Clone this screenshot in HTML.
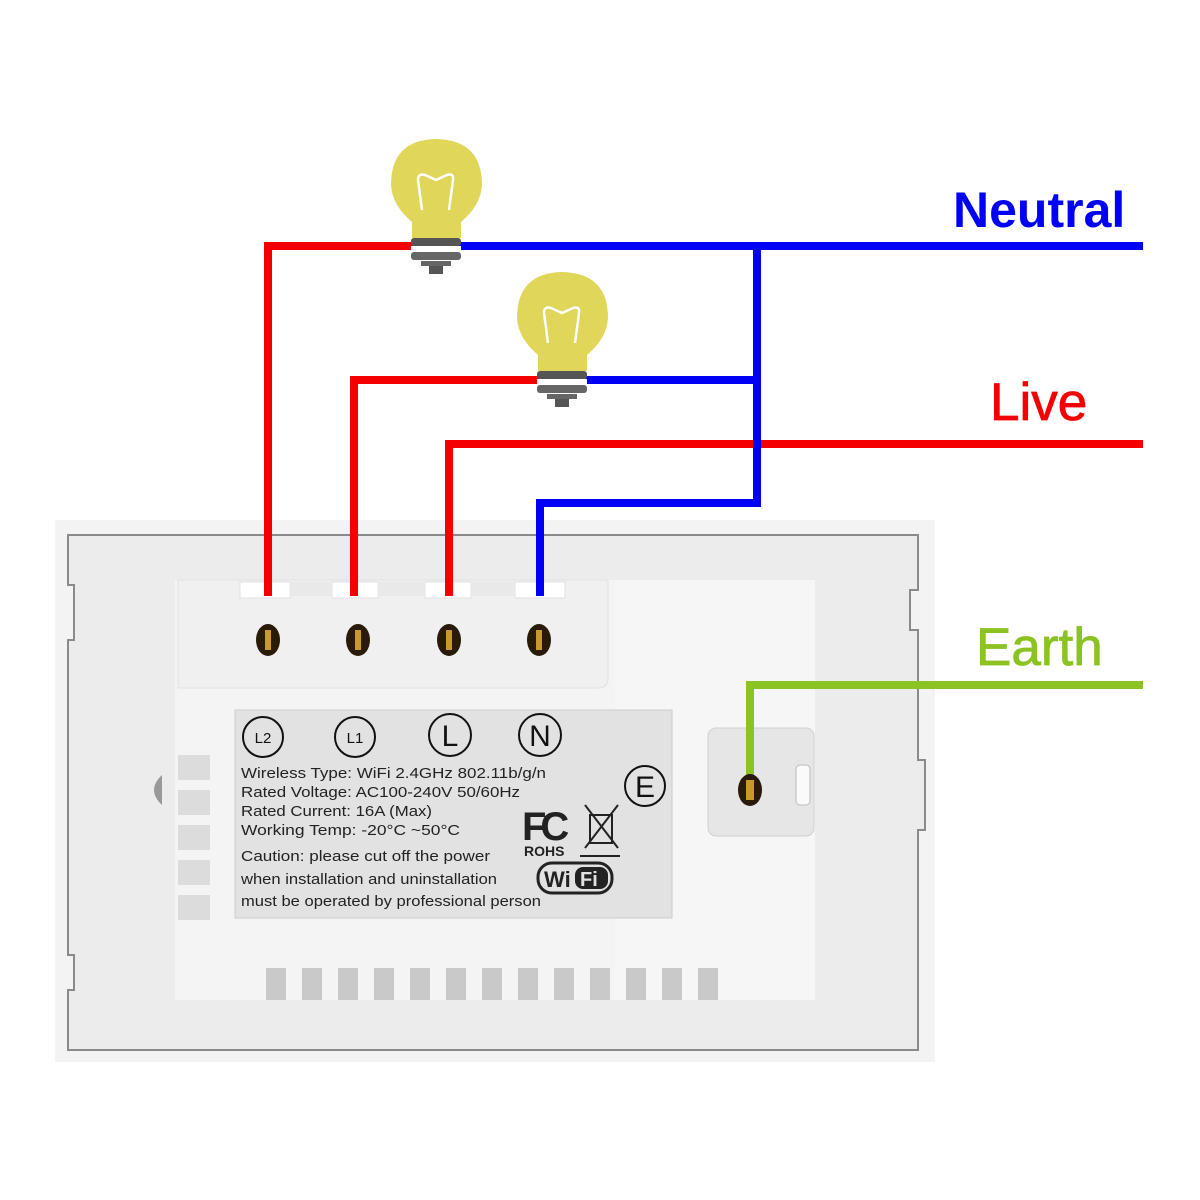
<!DOCTYPE html>
<html><head><meta charset="utf-8"><style>
html,body{margin:0;padding:0;background:#fff;}
svg{display:block;font-family:"Liberation Sans",Arial,sans-serif;}
</style></head><body>
<svg width="1200" height="1200" viewBox="0 0 1200 1200" xmlns="http://www.w3.org/2000/svg">
<rect width="1200" height="1200" fill="#fff"/>
<rect x="55" y="520" width="880" height="542" fill="#f3f3f3"/>
<path d="M68 535 H918 V590 H910 V630 H918 V760 H925 V830 H918 V1050 H68 V990 H74 V955 H68 V640 H74 V585 H68 Z" fill="#ececec" stroke="#8a8a8a" stroke-width="2"/>
<rect x="175" y="580" width="640" height="420" fill="#f4f4f4"/>
<rect x="615" y="580" width="200" height="420" fill="#f6f6f6"/>
<path d="M178 580 H608 V678 Q608 688 598 688 H178 Z" fill="#f0f0f0" stroke="#e2e2e2"/>
<g fill="#fff" stroke="#e0e0e0">
<rect x="240" y="582" width="50" height="16"/><rect x="332" y="582" width="46" height="16"/><rect x="425" y="582" width="46" height="16"/><rect x="515" y="582" width="50" height="16"/>
</g>
<rect x="290" y="582" width="42" height="14" fill="#e9e9e9"/>
<rect x="378" y="582" width="47" height="14" fill="#e9e9e9"/>
<rect x="471" y="582" width="44" height="14" fill="#e9e9e9"/>
<g fill="#dcdcdc">
<rect x="178" y="755" width="32" height="25"/><rect x="178" y="790" width="32" height="25"/><rect x="178" y="825" width="32" height="25"/><rect x="178" y="860" width="32" height="25"/><rect x="178" y="895" width="32" height="25"/>
</g>
<path d="M162 775 Q146 790 162 805 Z" fill="#999"/>
<g fill="#c9c9c9">
<rect x="266" y="968" width="20" height="32"/><rect x="302" y="968" width="20" height="32"/><rect x="338" y="968" width="20" height="32"/><rect x="374" y="968" width="20" height="32"/><rect x="410" y="968" width="20" height="32"/><rect x="446" y="968" width="20" height="32"/><rect x="482" y="968" width="20" height="32"/><rect x="518" y="968" width="20" height="32"/><rect x="554" y="968" width="20" height="32"/><rect x="590" y="968" width="20" height="32"/><rect x="626" y="968" width="20" height="32"/><rect x="662" y="968" width="20" height="32"/><rect x="698" y="968" width="20" height="32"/>
</g>
<rect x="708" y="728" width="106" height="108" rx="8" fill="#e6e6e6" stroke="#d0d0d0"/>
<rect x="796" y="765" width="14" height="40" rx="4" fill="#fafafa" stroke="#bbb"/>
<rect x="235" y="710" width="437" height="208" fill="#e2e2e2" stroke="#ccc"/>
<g fill="none" stroke="#111" stroke-width="2">
<circle cx="263" cy="737" r="20"/><circle cx="355" cy="737" r="20"/><circle cx="450" cy="735" r="21"/><circle cx="540" cy="735" r="21"/><circle cx="645" cy="786" r="20"/>
</g>
<g fill="#111" text-anchor="middle">
<text x="263" y="743" font-size="15">L2</text><text x="355" y="743" font-size="15">L1</text>
<text x="450" y="746" font-size="30">L</text><text x="540" y="746" font-size="30">N</text>
<text x="645" y="797" font-size="30">E</text>
</g>
<g fill="#222" font-size="14.5" lengthAdjust="spacingAndGlyphs">
<text x="241" y="778" textLength="305" lengthAdjust="spacingAndGlyphs">Wireless Type: WiFi 2.4GHz 802.11b/g/n</text>
<text x="241" y="797" textLength="279" lengthAdjust="spacingAndGlyphs">Rated Voltage: AC100-240V 50/60Hz</text>
<text x="241" y="816" textLength="191" lengthAdjust="spacingAndGlyphs">Rated Current: 16A (Max)</text>
<text x="241" y="835" textLength="219" lengthAdjust="spacingAndGlyphs">Working Temp: -20°C ~50°C</text>
<text x="241" y="861" textLength="249" lengthAdjust="spacingAndGlyphs">Caution:  please cut off the power</text>
<text x="241" y="884" textLength="256" lengthAdjust="spacingAndGlyphs">when installation and uninstallation</text>
<text x="241" y="906" textLength="300" lengthAdjust="spacingAndGlyphs">must be operated by professional person</text>
</g>
<text x="522" y="840" font-size="40" font-weight="bold" fill="#222" letter-spacing="-6">FC</text>
<text x="524" y="856" font-size="14" font-weight="bold" fill="#222">ROHS</text>
<g stroke="#222" stroke-width="2" fill="none"><path d="M585 805 L618 848 M618 805 L585 848"/><rect x="590" y="815" width="22" height="28"/><line x1="580" y1="856" x2="620" y2="856"/></g>
<rect x="538" y="863" width="74" height="30" rx="14" fill="#e2e2e2" stroke="#222" stroke-width="3"/>
<text x="544" y="887" font-size="22" font-weight="bold" fill="#222">Wi</text>
<rect x="575" y="867" width="33" height="22" rx="8" fill="#222"/>
<text x="580" y="886" font-size="20" font-weight="bold" fill="#e2e2e2">Fi</text>
<g fill="none" stroke-width="8" stroke-linecap="butt">
<path d="M268 596 V246 H415" stroke="#f50000"/>
<path d="M354 596 V380 H540" stroke="#f50000"/>
<path d="M449 596 V444 H1143" stroke="#f50000"/>
<path d="M458 246 H1143" stroke="#0000f5"/>
<path d="M757 246 V503 H540 V596" stroke="#0000f5"/>
<path d="M585 380 H757" stroke="#0000f5"/>
<path d="M750 790 V685 H1143" stroke="#8cc221"/>
</g>
<g>
<ellipse cx="268" cy="640" rx="12" ry="16" fill="#2a1a08"/><rect x="265" y="630" width="6" height="20" fill="#c89a2a"/>
<ellipse cx="358" cy="640" rx="12" ry="16" fill="#2a1a08"/><rect x="355" y="630" width="6" height="20" fill="#c89a2a"/>
<ellipse cx="449" cy="640" rx="12" ry="16" fill="#2a1a08"/><rect x="446" y="630" width="6" height="20" fill="#c89a2a"/>
<ellipse cx="539" cy="640" rx="12" ry="16" fill="#2a1a08"/><rect x="536" y="630" width="6" height="20" fill="#c89a2a"/>
<ellipse cx="750" cy="790" rx="12" ry="16" fill="#2a1a08"/><rect x="746" y="780" width="8" height="20" fill="#c89a2a"/>
</g>
<g id="b1">
<path d="M412 238 V222 Q392 205 391 185 Q391 140 436 139 Q482 140 482 185 Q481 205 461 222 V238 Z" fill="#e0d65a"/>
<path d="M422 210 L418 180 Q418 173 425 175 L436 180 L447 175 Q454 173 453 180 L449 210" fill="none" stroke="#fff" stroke-width="2.5"/>
<rect x="411" y="238" width="50" height="8" rx="3" fill="#555"/>
<rect x="411" y="246" width="50" height="6" fill="#fff"/>
<rect x="411" y="252" width="50" height="8" rx="3" fill="#666"/>
<rect x="421" y="261" width="30" height="5" fill="#666"/>
<rect x="429" y="266" width="14" height="8" fill="#555"/>
</g>
<use href="#b1" transform="translate(126,133)"/>
<text x="953" y="227" font-size="50" font-weight="bold" fill="#0000f5">Neutral</text>
<text x="990" y="420" font-size="53" fill="#f50000" stroke="#f50000" stroke-width="0.8">Live</text>
<text x="976" y="665" font-size="53" fill="#8cc221" stroke="#8cc221" stroke-width="0.8">Earth</text>
</svg>
</body></html>
